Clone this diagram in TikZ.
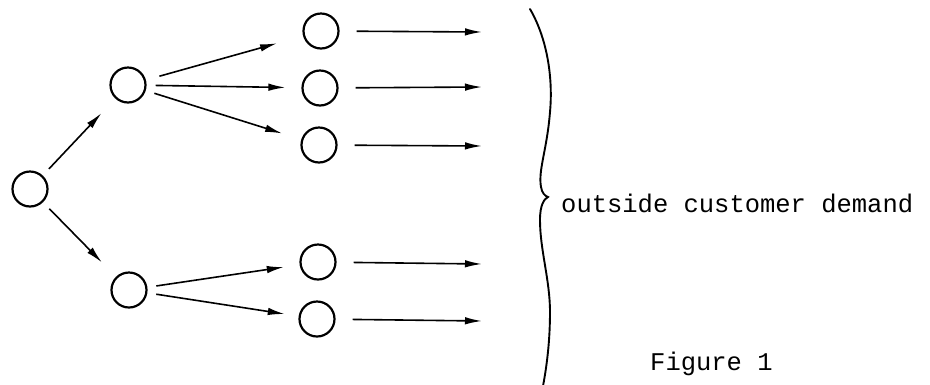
\documentclass[tikz,border=0pt]{standalone}
\usepackage{fontspec}
\setmonofont{Liberation Mono}
\usetikzlibrary{arrows.meta,calc}
\tikzset{
         stock/.style={draw,circle,line width=2.2pt,minimum size=35pt,inner sep=0pt},
         flow/.style={line width=1.6pt,-{Latex[length=17pt,width=7.5pt]},shorten <=9pt,shorten >=16pt},
         demand/.style={line width=1.6pt,-{Latex[length=17pt,width=7.5pt]},shorten <=17pt},
         typed/.style={font=\ttfamily\fontsize{25.5}{30}\selectfont,inner sep=0pt,anchor=base west}
        }

\begin{document}
\begin{tikzpicture}[x=1pt,y=-1pt]
\useasboundingbox(0,0)rectangle(930,384);
%stages
\node[stock](root) at (30,189){};
\node[stock](a) at (128,85){};
\node[stock](b) at (129,290){};
\node[stock](a1) at (321,31){};
\node[stock](a2) at (320,88){};
\node[stock](a3) at (319,145){};
\node[stock](b1) at (318,262){};
\node[stock](b2) at (317,319){};
%shipments
\draw[flow,shorten >=20pt](root)--(a);
\draw[flow,shorten >=20pt](root)--(b);
\draw[flow,shorten <=14pt,shorten >=27pt](a)--(a1);
\draw[flow](a)--(a2);
\draw[flow,shorten >=20pt](a)--(a3);
\draw[flow](b)--(b1);
\draw[flow,shorten >=14pt](b)--(b2);
%outside
\foreach \n/\y in {a1/32,a2/87,a3/146,b1/264,b2/321}{
\coordinate(\n out) at (482,\y);
\draw[demand](\n)--(\n out);
}
%brace
\draw[line width=1.9pt,line cap=round](530,9) .. controls (548,40) and (553,80) .. (550,112)
 .. controls (547,150) and (538,170) .. (541,187) .. controls (542,193) and (545,196) .. (548,197)
 .. controls (544,199) and (540,205) .. (540,220) .. controls (540,250) and (550,280) .. (550,312)
 .. controls (550,340) and (547,365) .. (543,386);
\node[typed](label) at (561,212){outside customer demand};
\node[typed](caption) at (650,370){Figure 1};
\end{tikzpicture}
\end{document}
